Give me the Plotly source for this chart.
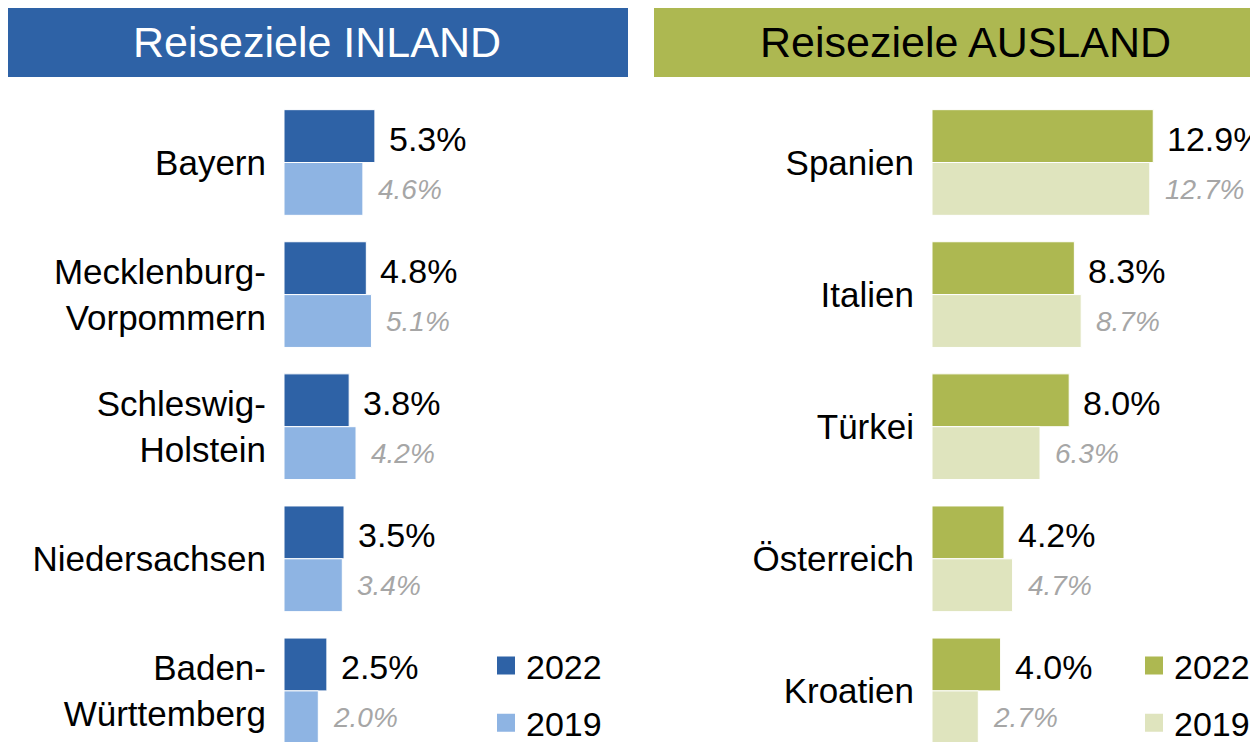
import plotly.graph_objects as go

# ---------------- data ----------------
inland_cats = ["Bayern", "Mecklenburg-<br>Vorpommern", "Schleswig-<br>Holstein", "Niedersachsen", "Baden-<br>Württemberg"]
inland_2022 = [5.3, 4.8, 3.8, 3.5, 2.5]
inland_2019 = [4.6, 5.1, 4.2, 3.4, 2.0]

ausland_cats = ["Spanien", "Italien", "Türkei", "Österreich", "Kroatien"]
ausland_2022 = [12.9, 8.3, 8.0, 4.2, 4.0]
ausland_2019 = [12.7, 8.7, 6.3, 4.7, 2.7]

years = ["2022", "2019"]
titles = ["Reiseziele INLAND", "Reiseziele AUSLAND"]

# ---------------- style ----------------
W, H = 1258, 742
OFF = 8  # page body margin offset
FONT = "Liberation Sans, Arial, sans-serif"
BLUE, LBLUE = "#2E62A6", "#8EB4E3"
GREEN, LGREEN = "#ADB851", "#DFE4BE"
GREY = "#A6A6A6"
PX_PER_PCT = 17.15
XMAX = 19


def px(x):
    return (x - OFF) / W


def py(y):
    return 1 - (y - OFF) / H


fig = go.Figure()

panels = [
    (inland_cats, inland_2022, inland_2019, BLUE, LBLUE, "x", "y", "legend"),
    (ausland_cats, ausland_2022, ausland_2019, GREEN, LGREEN, "x2", "y2", "legend2"),
]

for cats, v22, v19, c22, c19, xa, ya, lg in panels:
    for name, vals, col in ((years[0], v22, c22), (years[1], v19, c19)):
        fig.add_trace(go.Bar(
            y=cats, x=vals, orientation="h", name=name,
            marker=dict(color=col, line=dict(color="white", width=1)),
            xaxis=xa, yaxis=ya, showlegend=False, hoverinfo="skip",
        ))
    for name, col in ((years[0], c22), (years[1], c19)):
        fig.add_trace(go.Scatter(
            x=[None], y=[None], mode="markers", name=name,
            marker=dict(symbol="square", size=16, color=col, line=dict(color=col, width=2)),
            xaxis=xa, yaxis=ya, legend=lg, legendgroup=lg + name, showlegend=True,
        ))
    # value labels
    for c, a, b in zip(cats, v22, v19):
        fig.add_annotation(x=a, y=c, xref=xa, yref=ya, text=f"{a:.1f}%",
                           showarrow=False, xanchor="left", yanchor="middle",
                           xshift=12, yshift=24,
                           font=dict(family=FONT, size=34, color="black"))
        fig.add_annotation(x=b, y=c, xref=xa, yref=ya, text=f"<i>{b:.1f}%</i>",
                           showarrow=False, xanchor="left", yanchor="middle",
                           xshift=13, yshift=-27,
                           font=dict(family=FONT, size=28, color=GREY))

# header boxes
fig.add_shape(type="rect", xref="paper", yref="paper", x0=px(7), x1=px(628), y0=py(77), y1=py(5),
              fillcolor=BLUE, line=dict(width=0), layer="below")
fig.add_shape(type="rect", xref="paper", yref="paper", x0=px(654), x1=px(1290), y0=py(77), y1=py(5),
              fillcolor=GREEN, line=dict(width=0), layer="below")
fig.add_annotation(x=px(317), y=py(42), xref="paper", yref="paper", text=titles[0], showarrow=False,
                   xanchor="center", yanchor="middle", font=dict(family=FONT, size=43, color="white"))
fig.add_annotation(x=px(965), y=py(42), xref="paper", yref="paper", text=titles[1], showarrow=False,
                   xanchor="center", yanchor="middle", font=dict(family=FONT, size=43, color="black"))

# axes
step = 132.1
r_top = -(162.5 - OFF) / step
r_bot = r_top + H / step
yaxis_common = dict(type="category", range=[r_bot, r_top], showgrid=False, zeroline=False,
                    showline=False, ticks="", ticklabelstandoff=17,
                    tickfont=dict(family=FONT, size=35, color="black"), fixedrange=True)
xaxis_common = dict(range=[0, XMAX], visible=False, fixedrange=True)

fig.update_layout(
    width=W, height=H,
    margin=dict(l=0, r=0, t=0, b=0, autoexpand=False),
    paper_bgcolor="white", plot_bgcolor="white",
    barmode="group", bargap=0.2, bargroupgap=0,
    xaxis=dict(domain=[px(284), px(284 + XMAX * PX_PER_PCT)], anchor="y", **xaxis_common),
    xaxis2=dict(domain=[px(932), min(1.0, px(932 + XMAX * PX_PER_PCT))], anchor="y2", **xaxis_common),
    yaxis=dict(domain=[0, 1], anchor="x", **yaxis_common),
    yaxis2=dict(domain=[0, 1], anchor="x2", **yaxis_common),
    legend=dict(x=px(486), y=py(637), xanchor="left", yanchor="top", tracegroupgap=10,
                font=dict(family=FONT, size=34, color="black"), bgcolor="rgba(0,0,0,0)"),
    legend2=dict(x=px(1134), y=py(637), xanchor="left", yanchor="top", tracegroupgap=10,
                 font=dict(family=FONT, size=34, color="black"), bgcolor="rgba(0,0,0,0)"),
    font=dict(family=FONT),
)

fig.write_html("out.html")
